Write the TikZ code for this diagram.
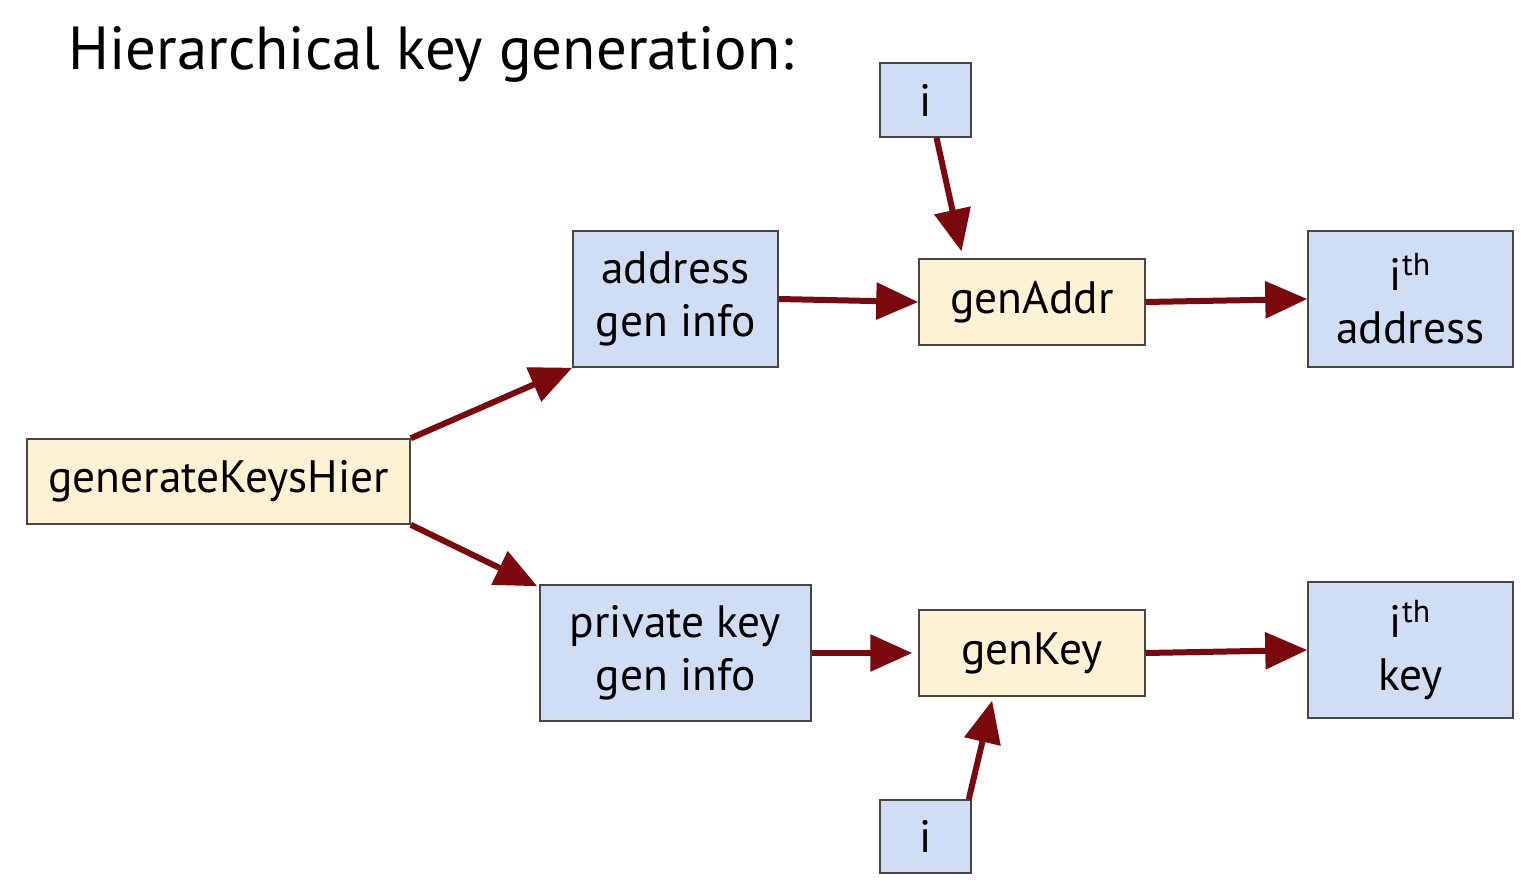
\documentclass[tikz,border=0pt]{standalone}
\usepackage{fontspec}
\setmainfont{PT Sans}
\usetikzlibrary{arrows.meta}

\definecolor{boxblue}{RGB}{208,222,245}
\definecolor{boxyellow}{RGB}{253,243,212}
\definecolor{boxedge}{RGB}{70,70,70}
\definecolor{arrowred}{RGB}{122,8,12}

\tikzset{every picture/.style={line width=0.75pt}}
\tikzset{
	boxfont/.style={font=\fontsize{22.7}{26.5}\selectfont},
	infobox/.style={boxfont, draw=boxedge, fill=boxblue, align=center, inner sep=0pt},
	funcbox/.style={boxfont, draw=boxedge, fill=boxyellow, align=center, inner sep=0pt},
	flow/.style={draw=arrowred, line width=3pt, -{Triangle[length=21pt,width=18pt]}}
}

\begin{document}
\begin{tikzpicture}[x=0.5pt,y=0.5pt,yscale=-1]
	\useasboundingbox (0,0) rectangle (1536,887);
	
	% Title
	\node (title) at (68,70) [anchor=base west, inner sep=0pt, font=\fontsize{30.4}{36}\selectfont] {Hierarchical key generation:};
	
	%Flowchart: Process
	\node (hier) at (218.5,481.5) [funcbox, minimum width=191.5pt, minimum height=42.5pt] {generateKeysHier};
	\node (addr) at (675.5,299) [infobox, minimum width=102.5pt, minimum height=68pt] {address\\gen info};
	\node (priv) at (675.5,653) [infobox, minimum width=135.5pt, minimum height=68pt] {private key\\gen info};
	\node (genaddr) at (1032,302) [funcbox, minimum width=113pt, minimum height=43pt] {genAddr};
	\node (genkey) at (1032,653) [funcbox, minimum width=113pt, minimum height=43pt] {genKey};
	\node (ithaddr) at (1410.5,299) [infobox, minimum width=102.5pt, minimum height=68pt] {i\textsuperscript{th}\\address};
	\node (ithkey) at (1410.5,650) [infobox, minimum width=102.5pt, minimum height=68pt] {i\textsuperscript{th}\\key};
	\node (itop) at (925.5,100) [infobox, minimum width=45.5pt, minimum height=37pt] {i};
	\node (ibot) at (925.5,836.5) [infobox, minimum width=45.5pt, minimum height=36.5pt] {i};
	
	%Straight Lines
	\draw [flow] (hier.north east) -- (addr.south west);
	\draw [flow] (hier.south east) -- ([xshift=-1pt,yshift=1pt]priv.north west);
	\draw [flow] (addr.east) -- (genaddr.west);
	\draw [flow] (genaddr.east) -- (ithaddr.west);
	\draw [flow, shorten >=3pt] (priv.east) -- (genkey.west);
	\draw [flow] (genkey.east) -- (ithkey.west);
	\draw [flow, shorten >=3.5pt] ([xshift=5.5pt]itop.south) -- ([xshift=-34.5pt]genaddr.north);
	\draw [flow, shorten >=2pt] ([xshift=-1.5pt]ibot.north east) -- ([xshift=-19.5pt]genkey.south);
	
\end{tikzpicture}
\end{document}
